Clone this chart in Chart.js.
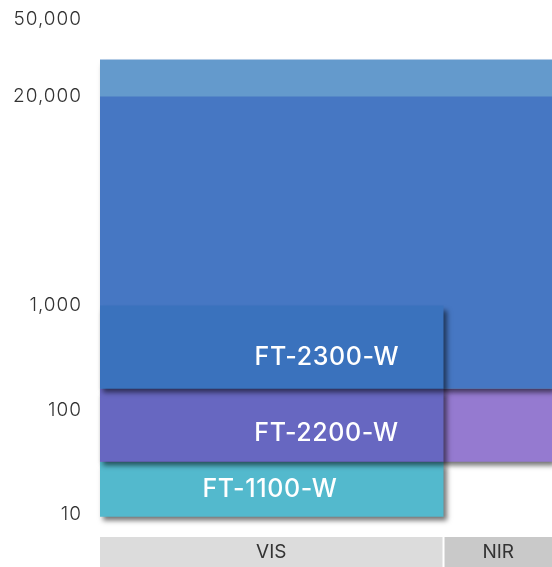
<!DOCTYPE html>
<html>
<head>
<meta charset="utf-8">
<script src="https://cdn.jsdelivr.net/npm/chart.js@4/dist/chart.umd.min.js"></script>
<style>
  html, body { margin: 0; padding: 0; background: #ffffff; }
  #wrap { width: 552px; height: 567px; position: relative; }
</style>
</head>
<body>
<div id="wrap"><canvas id="c"></canvas></div>
<script>
// ---------------- data ----------------
// VIS-range products (boxes drawn over the VIS part of the wavelength axis)
const products     = ['FT-2300-W', 'FT-2200-W', 'FT-1100-W'];
const productLow   = [160, 32, 9.5];
const productHigh  = [1000, 160, 32];
const productFrom  = [0, 0, 0];
const productTo    = [76, 76, 76];
const productLabelX = [50.2, 50.1, 37.6];
const productLabelY = [315, 59, 17.5];

// full-range (VIS + NIR) background areas
const rangeNames = ['Upper band', 'Blue range', 'Purple range'];
const rangeLow   = [20000, 160, 32];
const rangeHigh  = [31000, 31000, 160];
const rangeFrom  = [0, 0, 0];
const rangeTo    = [100, 100, 100];

// spectral bands under the plot
const bandNames = ['VIS', 'NIR'];
const bandFrom  = [0, 76];
const bandTo    = [76, 100];

// y-axis tick labels
const tickValues = [10, 100, 1000, 20000, 50000];
const tickLabels = ['10', '100', '1,000', '20,000', '50,000'];

// ---------------- styling / scale definition ----------------
const tickLevels = [0, 1, 2, 4, 4.735];   // stylised (non-uniform) log axis
function levelOf(v) {
  const L = Math.log10(v);
  let i = 0;
  while (i < tickValues.length - 2 && v > tickValues[i + 1]) i++;
  const a = Math.log10(tickValues[i]), b = Math.log10(tickValues[i + 1]);
  return tickLevels[i] + (L - a) / (b - a) * (tickLevels[i + 1] - tickLevels[i]);
}

const productColors = ['#3a72bd', '#6767c1', '#53b9cd'];
const rangeColors   = ['#649acc', '#4677c3', '#957ad0'];
const rangeShadow   = [false, true, true];
const bandColors    = ['#dcdcdc', '#c9c9c9'];

const datasets = [];
products.forEach((name, i) => {
  datasets.push({
    label: name,
    data: [{ x: (productFrom[i] + productTo[i]) / 2, y: [levelOf(productLow[i]), levelOf(productHigh[i])] }],
    span: [[productFrom[i], productTo[i]]],
    backgroundColor: productColors[i],
    shadow: true
  });
});
rangeNames.forEach((name, i) => {
  datasets.push({
    label: name,
    data: [{ x: (rangeFrom[i] + rangeTo[i]) / 2, y: [levelOf(rangeLow[i]), levelOf(rangeHigh[i])] }],
    span: [[rangeFrom[i], rangeTo[i]]],
    backgroundColor: rangeColors[i],
    shadow: rangeShadow[i]
  });
});

// bars spanning exact x ranges, computed through the x scale
const spanPlugin = {
  id: 'spanPlugin',
  afterDatasetsUpdate(chart) {
    const xs = chart.scales.x;
    chart.data.datasets.forEach((ds, i) => {
      const meta = chart.getDatasetMeta(i);
      meta.data.forEach((el, j) => {
        const s = ds.span[j];
        const p0 = xs.getPixelForValue(s[0]);
        const p1 = xs.getPixelForValue(s[1]);
        el.x = (p0 + p1) / 2;
        el.width = p1 - p0;
      });
    });
  }
};

const shadowPlugin = {
  id: 'shadowPlugin',
  beforeDraw(chart) { chart.ctx.letterSpacing = '1px'; },
  beforeDatasetDraw(chart, args) {
    const ds = chart.data.datasets[args.index];
    const ctx = chart.ctx;
    ctx.save();
    if (ds.shadow) {
      ctx.shadowColor = 'rgba(0,0,0,0.55)';
      ctx.shadowOffsetX = 3;
      ctx.shadowOffsetY = 4;
      ctx.shadowBlur = 5;
    }
  },
  afterDatasetDraw(chart) { chart.ctx.restore(); }
};

const labelPlugin = {
  id: 'labelPlugin',
  afterDatasetsDraw(chart) {
    const ctx = chart.ctx, xs = chart.scales.x, ys = chart.scales.y;
    ctx.save();
    ctx.letterSpacing = '0.6px';
    ctx.fillStyle = '#ffffff';
    ctx.font = '500 25px Inter, "Liberation Sans", sans-serif';
    ctx.textAlign = 'center';
    ctx.textBaseline = 'middle';
    products.forEach((name, i) => {
      ctx.fillText(name, xs.getPixelForValue(productLabelX[i]), ys.getPixelForValue(levelOf(productLabelY[i])));
    });
    ctx.restore();
  },
  afterDraw(chart) {
    const ctx = chart.ctx, xs = chart.scales.x;
    const top = chart.chartArea.bottom + 7;
    ctx.save();
    ctx.letterSpacing = '0px';
    bandNames.forEach((name, i) => {
      const p0 = xs.getPixelForValue(bandFrom[i]) + (i > 0 ? 1 : 0);
      const p1 = xs.getPixelForValue(bandTo[i]) - (i < bandNames.length - 1 ? 1 : 0);
      ctx.fillStyle = bandColors[i];
      ctx.fillRect(p0, top, p1 - p0, chart.height - top);
      ctx.fillStyle = '#333333';
      ctx.font = '400 19px Inter, "Liberation Sans", sans-serif';
      ctx.textAlign = 'center';
      ctx.textBaseline = 'middle';
      ctx.fillText(name, (p0 + p1) / 2, (top + chart.height) / 2);
    });
    ctx.restore();
  }
};

const H = 530, perDecade = 104.5, zeroPx = 514.5;
const yMax = zeroPx / perDecade;
const yMin = yMax - H / perDecade;

new Chart(document.getElementById('c'), {
  type: 'bar',
  data: { datasets },
  options: {
    responsive: true,
    maintainAspectRatio: false,
    animation: false,
    events: [],
    layout: { padding: { top: 0, left: 0, right: 0, bottom: 567 - H } },
    datasets: { bar: { grouped: false, barPercentage: 1, categoryPercentage: 1, borderWidth: 0, inflateAmount: 0, clip: false } },
    plugins: { legend: { display: false }, tooltip: { enabled: false } },
    scales: {
      x: { type: 'linear', min: 0, max: 100, display: false, offset: false, grid: { offset: false } },
      y: {
        type: 'linear', min: yMin, max: yMax,
        grid: { display: false, drawTicks: false },
        border: { display: false },
        afterBuildTicks(s) { s.ticks = tickValues.map(v => ({ value: levelOf(v) })); },
        afterFit(s) { s.width = 100; s.paddingTop = 0; s.paddingBottom = 0; },
        ticks: {
          padding: 18,
          color: '#333333',
          font: { family: 'Inter, "Liberation Sans", sans-serif', size: 19, weight: 300 },
          callback: (v, i) => tickLabels[i]
        }
      }
    }
  },
  plugins: [spanPlugin, shadowPlugin, labelPlugin]
});
</script>
</body>
</html>
